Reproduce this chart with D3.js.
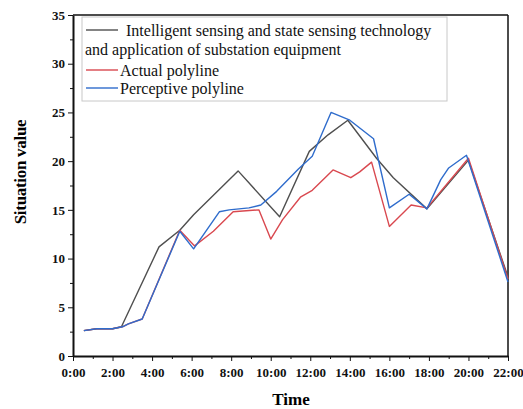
<!DOCTYPE html>
<html>
<head>
<meta charset="utf-8">
<script src="https://cdn.jsdelivr.net/npm/d3@7"></script>
<style>
  body { margin: 0; background: #fff; }
  svg, svg text { font-family: "Liberation Serif", "Times New Roman", serif; }
  .axis text { font-size: 13px; font-weight: bold; fill: #111; font-family: "Liberation Serif", serif; }
  .axis path, .axis line { stroke: #111; }
</style>
</head>
<body>
<div id="chart"></div>
<script>
// time in hours, value
const intelligentSeries = [
  [0.55, 2.6], [1.2, 2.8], [2.0, 2.8], [2.45, 3.0], [4.35, 11.2], [5.4, 12.9],
  [6.1, 14.5], [8.35, 19.0], [10.45, 14.3], [11.95, 21.0], [12.9, 22.7], [13.9, 24.2],
  [15.35, 20.3], [16.2, 18.3], [17.9, 15.1], [20.0, 20.1], [22.0, 8.1]
];
const actualSeries = [
  [0.55, 2.6], [1.2, 2.8], [2.0, 2.8], [2.5, 3.0], [2.8, 3.3], [3.5, 3.8], [5.4, 12.9],
  [6.15, 11.3], [7.1, 12.8], [8.1, 14.8], [9.4, 15.0], [10.0, 12.0], [10.6, 14.0],
  [11.5, 16.3], [12.1, 17.0], [13.15, 19.1], [14.05, 18.3], [14.5, 18.9], [15.1, 19.9],
  [16.0, 13.3], [17.1, 15.5], [17.9, 15.2], [20.0, 20.3], [22.0, 7.9]
];
const perceptiveSeries = [
  [0.55, 2.6], [1.2, 2.8], [2.0, 2.8], [2.5, 3.0], [2.8, 3.3], [3.5, 3.8], [5.4, 12.8],
  [6.1, 11.0], [7.4, 14.8], [7.9, 15.0], [8.9, 15.2], [9.5, 15.5], [10.3, 16.9],
  [11.4, 19.2], [12.1, 20.5], [13.05, 25.0], [14.0, 24.2], [15.2, 22.3], [16.0, 15.2],
  [17.0, 16.6], [17.9, 15.1], [18.6, 18.1], [19.0, 19.3], [19.9, 20.6], [22.0, 7.6]
];
const xTicks = [0, 2, 4, 6, 8, 10, 12, 14, 16, 18, 20, 22];
const yTicks = [0, 5, 10, 15, 20, 25, 30, 35];
const legendLabels = [
  "Intelligent sensing and state sensing technology",
  "Actual polyline",
  "Perceptive polyline"
];
const legendSecondLine = "and application of substation equipment";
const colors = ["#4f4f4f", "#d9484f", "#2f6ccc"];

const width = 523, height = 409;
const margin = { top: 15, right: 15, bottom: 53, left: 73 };
const innerW = width - margin.left - margin.right;
const innerH = height - margin.top - margin.bottom;

const svg = d3.select("#chart").append("svg")
  .attr("width", width)
  .attr("height", height);

const g = svg.append("g")
  .attr("transform", `translate(${margin.left},${margin.top})`);

const x = d3.scaleLinear().domain([0, 22]).range([0, innerW]);
const y = d3.scaleLinear().domain([0, 35]).range([innerH, 0]);

// minor ticks
const xMinor = d3.range(1, 22, 2);
const yMinor = d3.range(2.5, 35, 5);

g.append("g")
  .attr("class", "axis")
  .attr("transform", `translate(0,${innerH})`)
  .call(d3.axisBottom(x).tickValues(xMinor).tickSize(3).tickFormat(""))
  .call(s => s.select(".domain").remove());

g.append("g")
  .attr("class", "axis")
  .call(d3.axisLeft(y).tickValues(yMinor).tickSize(3).tickFormat(""))
  .call(s => s.select(".domain").remove());

g.append("g")
  .attr("class", "axis")
  .attr("transform", `translate(0,${innerH})`)
  .call(d3.axisBottom(x).tickValues(xTicks).tickSize(5).tickSizeOuter(0)
    .tickFormat(d => `${d}:00`))
  .call(s => s.selectAll("text").attr("dy", "1.0em"))
  .call(s => s.select(".domain").attr("stroke-width", 2));

g.append("g")
  .attr("class", "axis")
  .call(d3.axisLeft(y).tickValues(yTicks).tickSize(5).tickSizeOuter(0))
  .call(s => s.selectAll("text").attr("x", -8))
  .call(s => s.select(".domain").attr("stroke-width", 2));

// top and right frame
g.append("line")
  .attr("x1", 0).attr("x2", innerW).attr("y1", 0).attr("y2", 0)
  .attr("stroke", "#111").attr("stroke-width", 1.5);
g.append("line")
  .attr("x1", innerW).attr("x2", innerW).attr("y1", 0).attr("y2", innerH)
  .attr("stroke", "#111").attr("stroke-width", 1.5);

const line = d3.line()
  .x(d => x(d[0]))
  .y(d => y(d[1]));

[intelligentSeries, actualSeries, perceptiveSeries].forEach((s, i) => {
  g.append("path")
    .datum(s)
    .attr("fill", "none")
    .attr("stroke", colors[i])
    .attr("stroke-width", 1.4)
    .attr("stroke-linejoin", "round")
    .attr("d", line);
});

// axis titles
svg.append("text")
  .attr("transform", "translate(26,172) rotate(-90)")
  .attr("text-anchor", "middle")
  .style("font-size", "17px")
  .style("font-weight", "bold")
  .style("letter-spacing", "-0.3px")
  .text("Situation value");

svg.append("text")
  .attr("x", 291)
  .attr("y", 405)
  .attr("text-anchor", "middle")
  .style("font-size", "17px")
  .style("font-weight", "bold")
  .text("Time");

// legend
const legend = g.append("g").attr("transform", "translate(9,2)");
legend.append("rect")
  .attr("width", 365).attr("height", 84)
  .attr("fill", "#fff")
  .attr("stroke", "#c8c8c8");

const rows = [13, 53, 71];
legendLabels.forEach((label, i) => {
  legend.append("line")
    .attr("x1", 4).attr("x2", 36)
    .attr("y1", rows[i]).attr("y2", rows[i])
    .attr("stroke", colors[i]).attr("stroke-width", 1.4);
  legend.append("text")
    .attr("x", i === 0 ? 44 : 38)
    .attr("y", rows[i])
    .attr("dy", "0.35em")
    .style("font-size", "16px")
    .style("fill", "#111")
    .text(label);
});
legend.append("text")
  .attr("x", 3)
  .attr("y", 32)
  .attr("dy", "0.35em")
  .style("font-size", "16px")
  .style("fill", "#111")
  .text(legendSecondLine);
</script>
</body>
</html>
